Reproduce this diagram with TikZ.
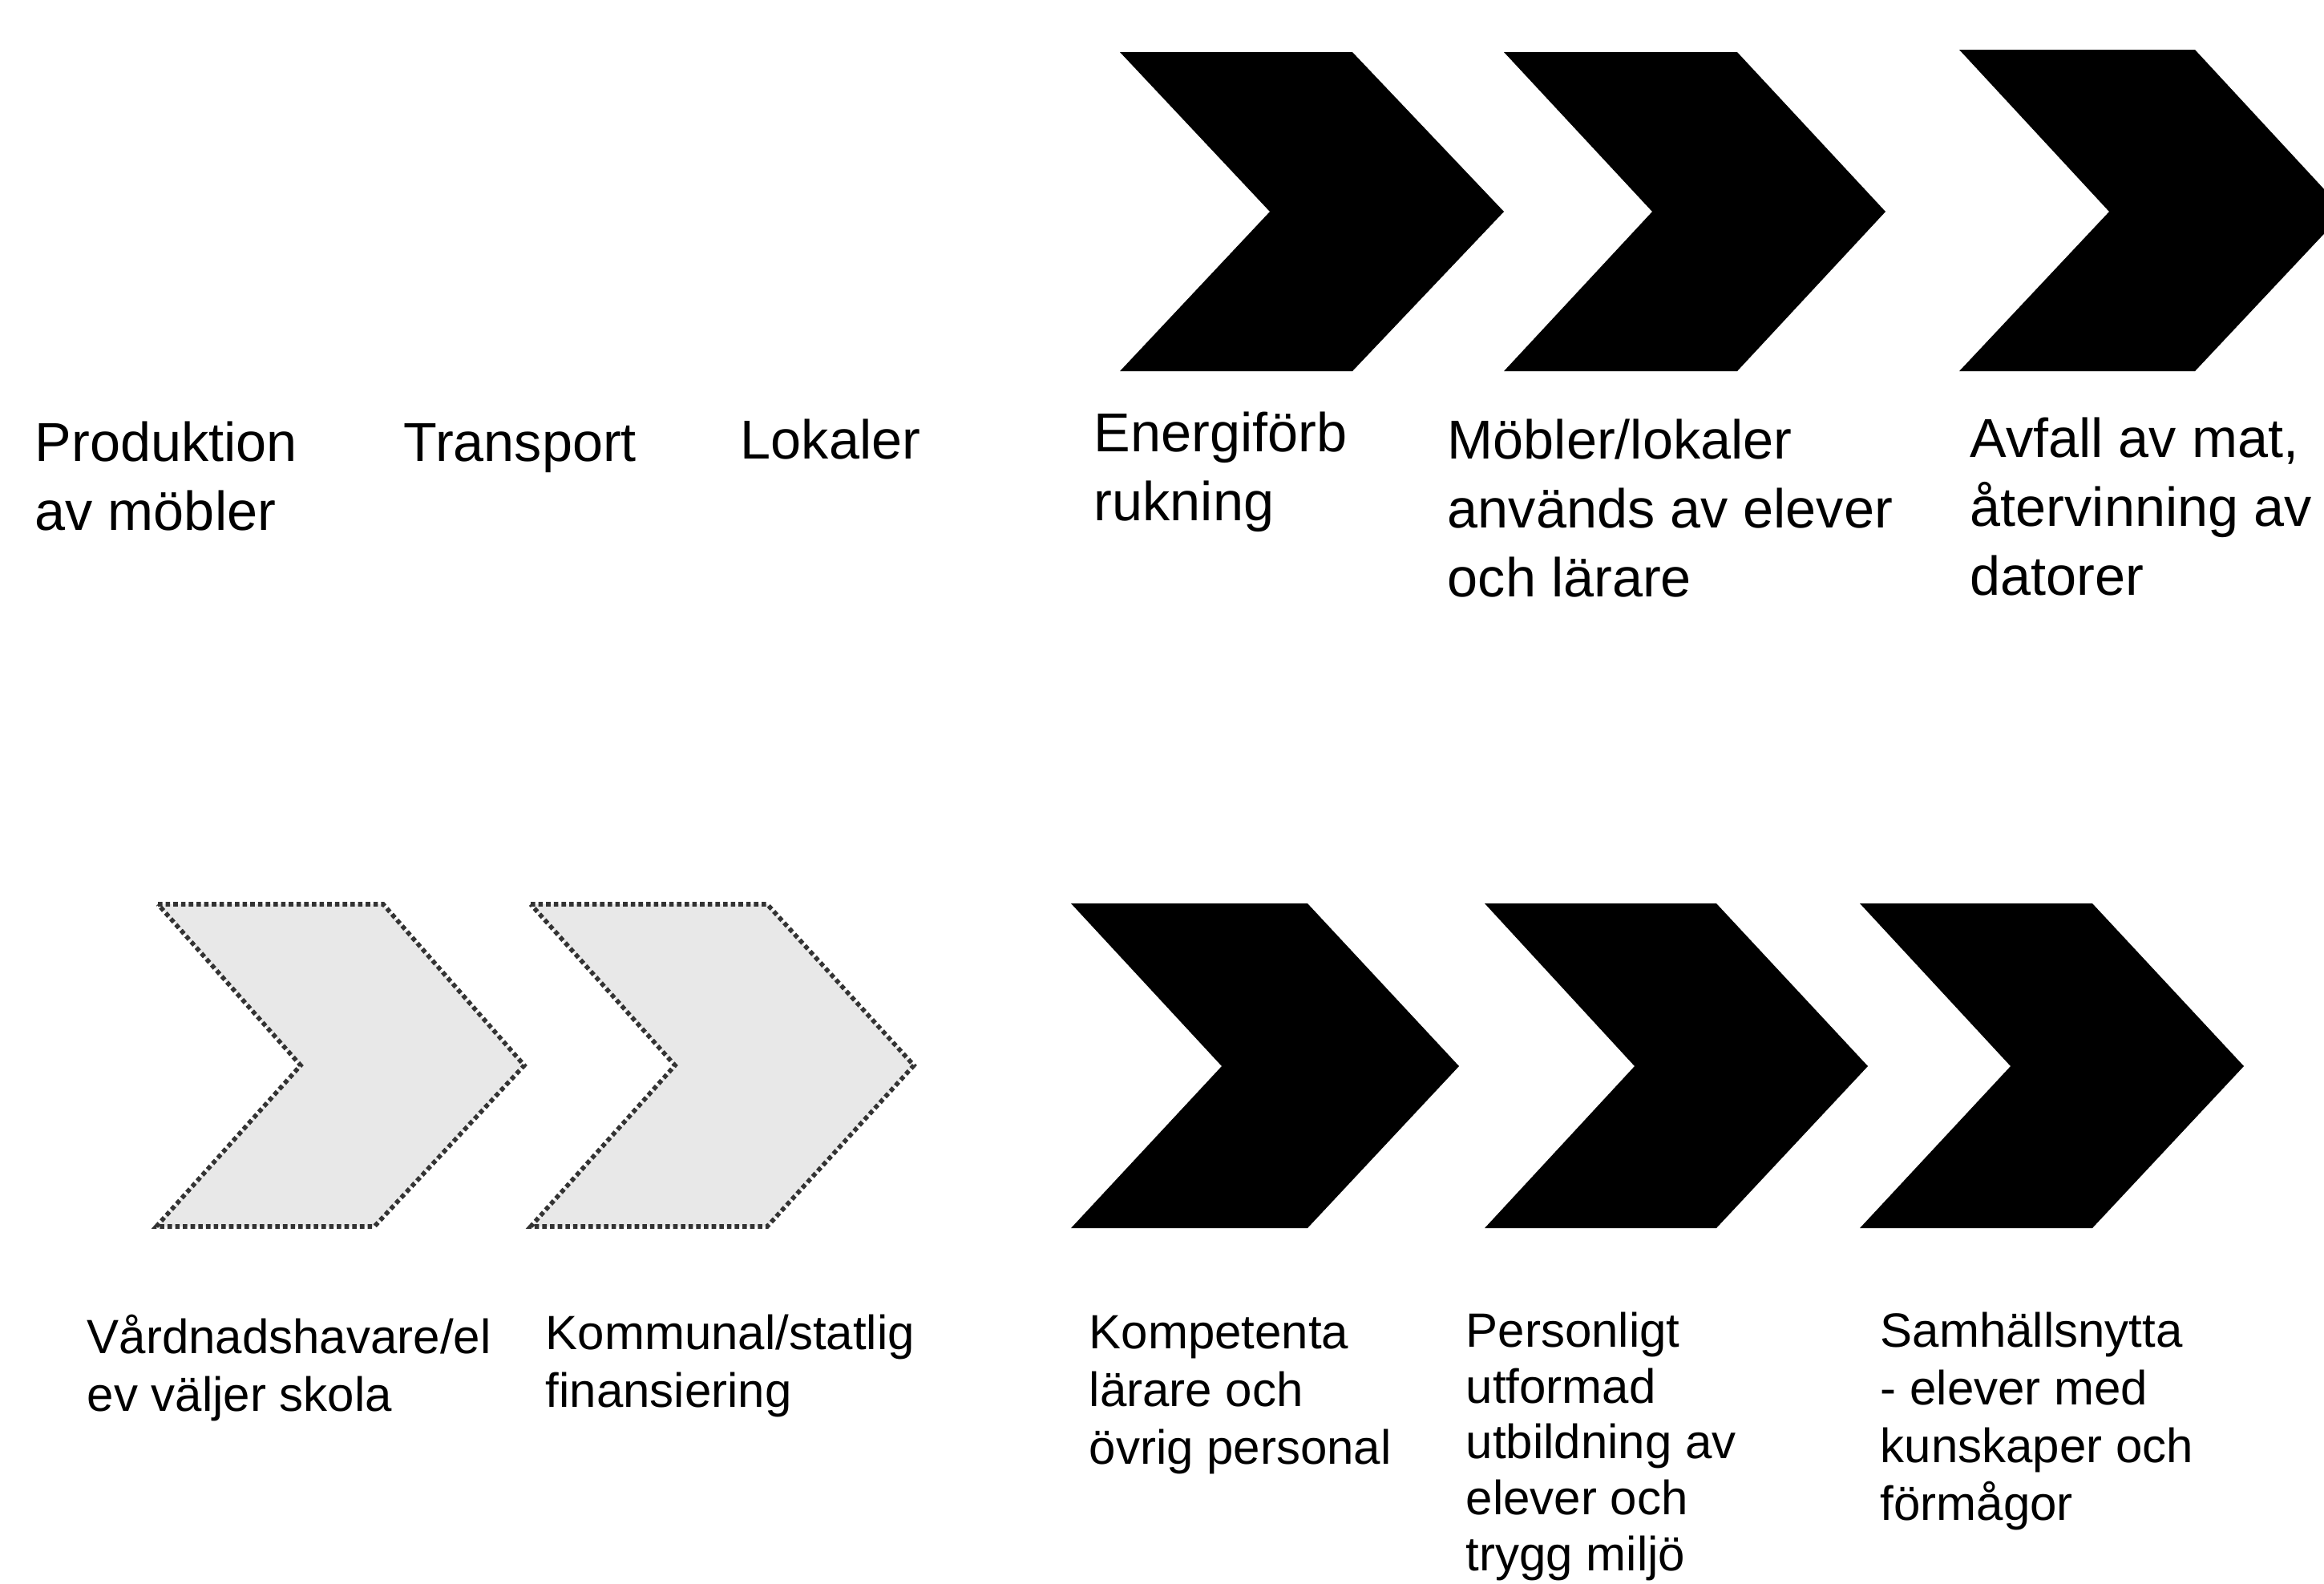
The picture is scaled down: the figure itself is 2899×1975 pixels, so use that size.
\documentclass[tikz,border=0pt]{standalone}
\usepackage{fontspec}
\setmainfont{Liberation Sans}
\begin{document}
\begin{tikzpicture}[x=0.25pt,y=-0.25pt,
  chevblack/.style={fill=black},
  chevdots/.style={fill=black!9,draw=black!80,densely dotted,line width=1.4pt},
  toptext/.style={anchor=base west,inner sep=0pt,align=left,font=\fontsize{17.1pt}{21.5pt}\selectfont},
  bottext/.style={anchor=base west,inner sep=0pt,align=left,font=\fontsize{15pt}{18pt}\selectfont}]
\useasboundingbox[fill=white] (0,0) rectangle (2899,1975);
% top row black chevrons
\fill[chevblack] (1397,65) -- (1687,65) -- (1876,264) -- (1687,463) -- (1397,463) -- (1584,264) -- cycle;
\fill[chevblack] (1876,65) -- (2167,65) -- (2352,264) -- (2167,463) -- (1876,463) -- (2061,264) -- cycle;
\fill[chevblack] (2444,62) -- (2738,62) -- (2925,264) -- (2738,463) -- (2444,463) -- (2631,264) -- cycle;
% bottom row dotted chevrons
\filldraw[chevdots] (197,1128) -- (478,1128) -- (654,1329) -- (467,1530) -- (195,1530) -- (375,1329) -- cycle;
\filldraw[chevdots] (662,1128) -- (957,1128) -- (1140,1329) -- (957,1530) -- (662,1530) -- (842,1329) -- cycle;
% bottom row black chevrons
\fill[chevblack] (1336,1127) -- (1631,1127) -- (1820,1330) -- (1631,1532) -- (1336,1532) -- (1524,1330) -- cycle;
\fill[chevblack] (1852,1127) -- (2141,1127) -- (2330,1330) -- (2141,1532) -- (1852,1532) -- (2039,1330) -- cycle;
\fill[chevblack] (2320,1127) -- (2610,1127) -- (2799,1330) -- (2610,1532) -- (2320,1532) -- (2508,1330) -- cycle;
% top row texts (anchor = baseline of last line)
\node[toptext] (t1) at (43,661) {Produktion\\av möbler};
\node[toptext] (t2) at (503,575) {Transport};
\node[toptext] (t3) at (923,572) {Lokaler};
\node[toptext] (t4) at (1364,649) {Energiförb\\rukning};
\node[toptext] (t5) at (1805,744) {Möbler/lokaler\\används av elever\\och lärare};
\node[toptext] (t6) at (2457,742) {Avfall av mat,\\återvinning av\\datorer};
% bottom row texts (anchor = baseline of last line)
\node[bottext] (b1) at (108,1760) {Vårdnadshavare/el\\ev väljer skola};
\node[bottext] (b2) at (680,1755) {Kommunal/statlig\\finansiering};
\node[bottext] (b3) at (1358,1826) {Kompetenta\\lärare och\\övrig personal};
\node[bottext,font=\fontsize{15pt}{17.4pt}\selectfont] (b4) at (1828,1959) {Personligt\\utformad\\utbildning av\\elever och\\trygg miljö};
\node[bottext] (b5) at (2345,1896) {Samhällsnytta\\- elever med\\kunskaper och\\förmågor};
\end{tikzpicture}
\end{document}
